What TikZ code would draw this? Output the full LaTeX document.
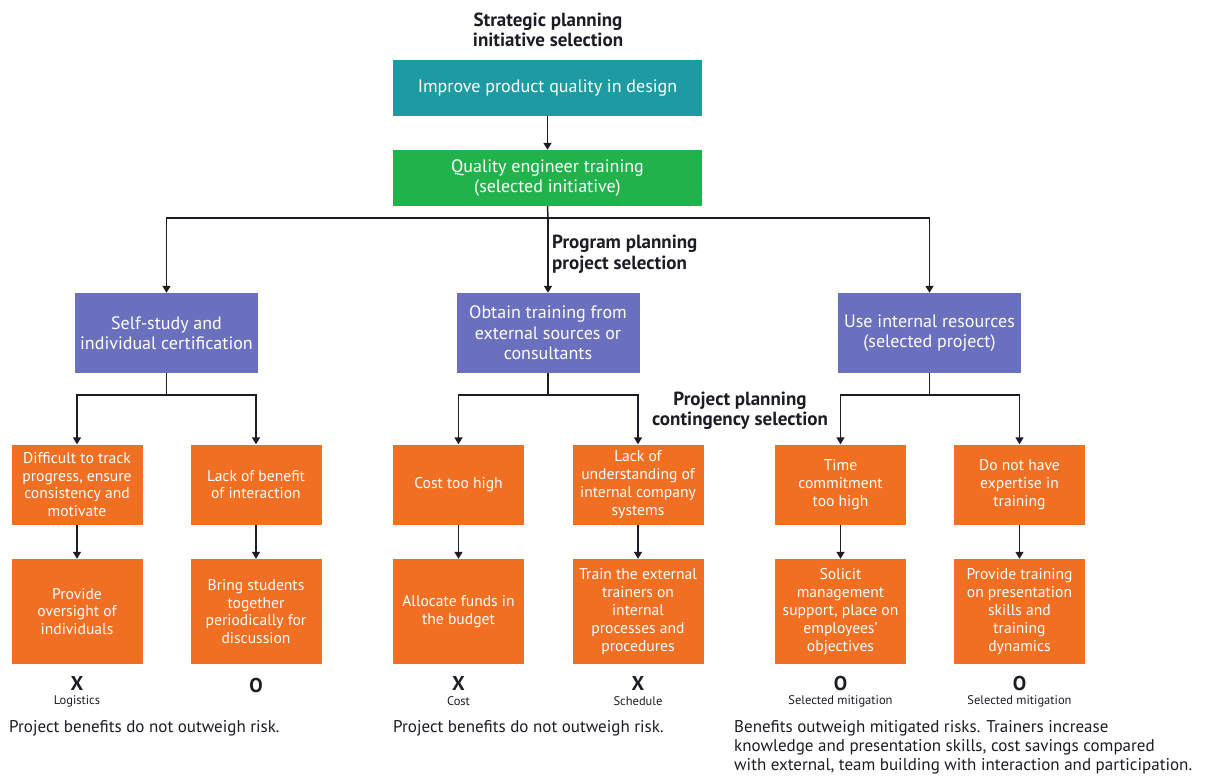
\documentclass[tikz,border=0pt]{standalone}
\usepackage{fontspec}
\setmainfont{PT Sans}
\usetikzlibrary{arrows.meta}
\definecolor{tealbox}{HTML}{1E9AA2}
\definecolor{greenbox}{HTML}{22B24C}
\definecolor{bluebox}{HTML}{6A6FBE}
\definecolor{orangebox}{HTML}{F06F22}
\definecolor{ink}{HTML}{1C1C24}
\begin{document}
\begin{tikzpicture}[x=1pt,y=-1pt,
  base/.style={rectangle, inner sep=1pt, align=center, text=white},
  topbox/.style={base, minimum width=309pt, minimum height=56pt, font=\fontsize{18}{20}\selectfont},
  projbox/.style={base, fill=bluebox, minimum width=183pt, minimum height=80pt, font=\fontsize{18}{20.5}\selectfont},
  riskbox/.style={base, fill=orangebox, minimum width=131pt, minimum height=80pt, font=\fontsize{15.6}{17.8}\selectfont},
  fixbox/.style={base, fill=orangebox, minimum width=131pt, minimum height=105pt, font=\fontsize{15.6}{17.8}\selectfont},
  heading/.style={align=center, text=ink, inner sep=1pt, font=\bfseries\fontsize{19}{20.5}\selectfont},
  outcome/.style={text=ink, inner sep=1pt, font=\bfseries\fontsize{20}{20}\selectfont},
  sublabel/.style={text=ink, inner sep=1pt, font=\fontsize{12.5}{12.5}\selectfont},
  note/.style={text=ink, anchor=north west, align=left, inner sep=1pt, font=\fontsize{17}{19}\selectfont},
  link/.style={draw=ink, line width=1.5pt},
  arr/.style={link, -{Triangle[length=7pt,width=8pt]}}
]
\useasboundingbox (0,0) rectangle (1205,780);

% strategic level
\node[heading] (h1) at (548,30) {Strategic planning\\initiative selection};
\node[topbox, fill=tealbox] (top) at (547.5,88) {Improve product quality in design};
\node[topbox, fill=greenbox] (sel) at (547.5,178) {Quality engineer training\\(selected initiative)};

% program level
\node[heading, anchor=west, align=left] (h2) at (551,254) {Program planning\\project selection};
\node[projbox] (pl) at (166.5,333) {Self-study and\\individual certification};
\node[projbox] (pm) at (548,333) {Obtain training from\\external sources or\\consultants};
\node[projbox] (pr) at (929.5,333) {Use internal resources\\(selected project)};

% project level
\node[heading] (h3) at (740,411) {Project planning\\contingency selection};

\node[riskbox] (r1) at (77,484.5) {Difficult to track\\progress, ensure\\consistency and\\motivate};
\node[riskbox] (r2) at (256,484.5) {Lack of benefit\\of interaction};
\node[riskbox] (r3) at (458.5,484.5) {Cost too high};
\node[riskbox] (r4) at (638,484.5) {Lack of\\understanding of\\internal company\\systems};
\node[riskbox] (r5) at (840.5,484.5) {Time\\commitment\\too high};
\node[riskbox] (r6) at (1019.5,484.5) {Do not have\\expertise in\\training};

\node[fixbox] (f1) at (77,611.5) {Provide\\oversight of\\individuals};
\node[fixbox] (f2) at (256,611.5) {Bring students\\together\\periodically for\\discussion};
\node[fixbox] (f3) at (458.5,611.5) {Allocate funds in\\the budget};
\node[fixbox] (f4) at (638,611.5) {Train the external\\trainers on\\internal\\processes and\\procedures};
\node[fixbox] (f5) at (840.5,611.5) {Solicit\\management\\support, place on\\employees'\\objectives};
\node[fixbox] (f6) at (1019.5,611.5) {Provide training\\on presentation\\skills and\\training\\dynamics};

% connectors
\draw[arr] (top) -- (sel);
\coordinate (j0) at (548,218);
\draw[link] (sel.south) -- (j0);
\draw[arr] (j0) -| (pl.north);
\draw[arr] (j0) -| (pr.north);
\draw[arr] (j0) -- (pm.north);

\coordinate (j1) at (166.5,395);
\coordinate (j2) at (548,395);
\coordinate (j3) at (929.5,395);
\draw[link] (pl.south) -- (j1);
\draw[link] (pm.south) -- (j2);
\draw[link] (pr.south) -- (j3);
\draw[arr] (j1) -| (r1.north);
\draw[arr] (j1) -| (r2.north);
\draw[arr] (j2) -| (r3.north);
\draw[arr] (j2) -| (r4.north);
\draw[arr] (j3) -| (r5.north);
\draw[arr] (j3) -| (r6.north);

\foreach \i in {1,...,6} \draw[arr] (r\i) -- (f\i);

% outcomes
\node[outcome] (m1) at (77,683) {X};
\node[sublabel] (s1) at (77,701) {Logistics};
\node[outcome] (m2) at (256,685) {O};
\node[outcome] (m3) at (458.5,683) {X};
\node[sublabel] (s3) at (458.5,701) {Cost};
\node[outcome] (m4) at (638,683) {X};
\node[sublabel] (s4) at (638,701) {Schedule};
\node[outcome] (m5) at (840.5,683) {O};
\node[sublabel] (s5) at (840.5,701) {Selected mitigation};
\node[outcome] (m6) at (1019.5,683) {O};
\node[sublabel] (s6) at (1019.5,701) {Selected mitigation};

\node[note] (n1) at (8,719) {Project benefits do not outweigh risk.};
\node[note] (n2) at (392,719) {Project benefits do not outweigh risk.};
\node[note] (n3) at (733,719) {Benefits outweigh mitigated risks. Trainers increase\\knowledge and presentation skills, cost savings compared\\with external, team building with interaction and participation.};
\end{tikzpicture}
\end{document}
